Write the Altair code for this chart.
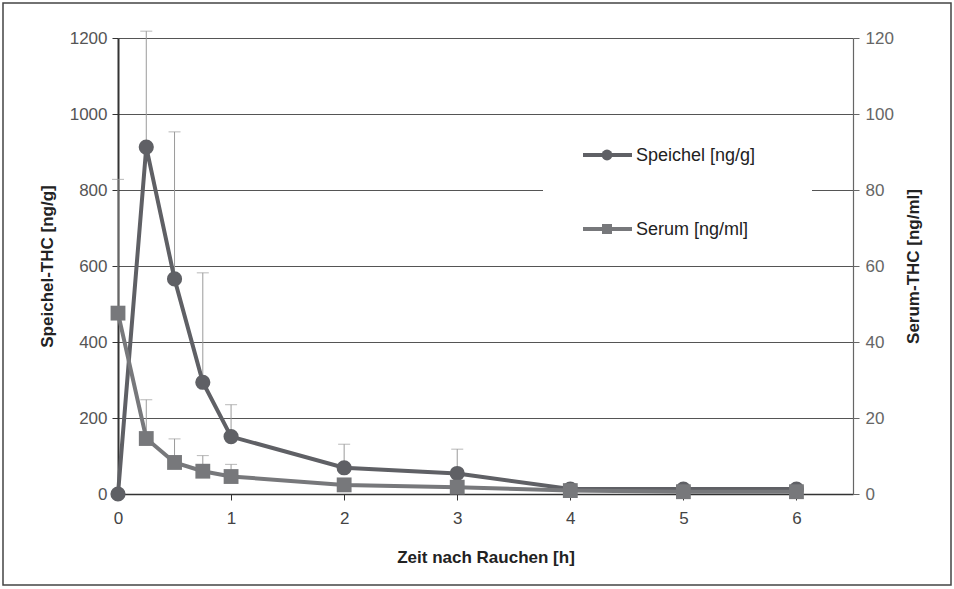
import altair as alt
import pandas as pd

# Time after smoking (hours)
hours = [0, 0.25, 0.5, 0.75, 1, 2, 3, 4, 5, 6]

# Oral fluid THC (ng/g) and its standard deviation
speichel = [0, 913, 566, 294, 151, 69, 54, 13, 13, 13]
speichel_sd = [0, 305, 387, 288, 84, 62, 64, 0, 0, 0]

# Serum THC (ng/ml) and its standard deviation
serum = [47.6, 14.6, 8.3, 6.0, 4.6, 2.4, 1.8, 0.9, 0.6, 0.6]
serum_sd = [35.2, 10.2, 6.2, 4.1, 3.2, 0, 0, 0, 0, 0]

x_ticks = [0, 1, 2, 3, 4, 5, 6]
left_ticks = [0, 200, 400, 600, 800, 1000, 1200]
right_ticks = [0, 20, 40, 60, 80, 100, 120]

legend_labels = ["Speichel [ng/g]", "Serum [ng/ml]"]

FONT = "Liberation Sans"
C_SPEICHEL = "#5f6065"
C_SERUM = "#77787b"
C_ERR = "#9a9a9a"

df = pd.DataFrame({
    "t": hours,
    "speichel": speichel,
    "speichel_hi": [v + s for v, s in zip(speichel, speichel_sd)],
    "speichel_sd": speichel_sd,
    "serum": serum,
    "serum_hi": [v + s for v, s in zip(serum, serum_sd)],
    "serum_sd": serum_sd,
})

x_enc = alt.X(
    "t:Q",
    scale=alt.Scale(domain=[0, 6.5], nice=False, zero=False),
    axis=alt.Axis(
        values=x_ticks, format="d", title="Zeit nach Rauchen [h]", grid=False,
        domainColor="#333", domainWidth=1.5, tickColor="#333", tickSize=6,
        labelFontSize=17, labelColor="#444", labelPadding=10, labelFont=FONT,
        labelFlush=False,
        titleFontSize=17, titleFont=FONT, titleFontWeight="bold", titleColor="#222",
        titlePadding=23,
    ),
)

left_scale = alt.Scale(domain=[0, 1200], nice=False)
right_scale = alt.Scale(domain=[0, 120], nice=False)

base = alt.Chart(df)

# --- Oral fluid series on the left axis ---
sp_err = base.transform_filter("datum.speichel_sd > 0").mark_rule(
    color=C_ERR, strokeWidth=1
).encode(x=x_enc, y=alt.Y("speichel:Q", scale=left_scale), y2="speichel_hi:Q")
sp_cap = base.transform_filter("datum.speichel_sd > 0").mark_tick(
    color=C_ERR, orient="horizontal", size=12, thickness=1
).encode(x="t:Q", y=alt.Y("speichel_hi:Q", scale=left_scale))
sp_line = base.mark_line(color=C_SPEICHEL, strokeWidth=4).encode(
    x="t:Q",
    y=alt.Y(
        "speichel:Q", scale=left_scale,
        axis=alt.Axis(
            values=left_ticks, format="d", title="Speichel-THC [ng/g]",
            orient="left", grid=True, gridColor="#555", gridWidth=1,
            domainColor="#333", domainWidth=2, tickColor="#333", tickSize=6,
            labelFontSize=17, labelColor="#555", labelPadding=5, labelFont=FONT,
            labelFlush=False,
            titleFontSize=17, titleFont=FONT, titleFontWeight="bold",
            titleColor="#222", titlePadding=13,
        ),
    ),
)
sp_pts = base.mark_point(
    shape="circle", filled=True, size=230, color=C_SPEICHEL, opacity=1
).encode(x="t:Q", y=alt.Y("speichel:Q", scale=left_scale))

left_layer = alt.layer(sp_err, sp_cap, sp_line, sp_pts)

# --- Serum series on the right axis ---
se_err = base.transform_filter("datum.serum_sd > 0").mark_rule(
    color=C_ERR, strokeWidth=1
).encode(x="t:Q", y=alt.Y("serum:Q", scale=right_scale), y2="serum_hi:Q")
se_cap = base.transform_filter("datum.serum_sd > 0").mark_tick(
    color=C_ERR, orient="horizontal", size=12, thickness=1
).encode(x="t:Q", y=alt.Y("serum_hi:Q", scale=right_scale))
se_line = base.mark_line(color=C_SERUM, strokeWidth=4).encode(
    x="t:Q",
    y=alt.Y(
        "serum:Q", scale=right_scale,
        axis=alt.Axis(
            values=right_ticks, format="d", title="Serum-THC [ng/ml]",
            orient="right", grid=False, domainColor="#666", domainWidth=1.2,
            tickColor="#666", tickSize=6,
            labelFontSize=17, labelColor="#666", labelPadding=6, labelFont=FONT,
            labelFlush=False,
            titleFontSize=17, titleFont=FONT, titleFontWeight="bold",
            titleColor="#222", titlePadding=29, titleAngle=270,
            titleBaseline="bottom",
        ),
    ),
)
se_pts = base.mark_point(
    shape="square", filled=True, size=220, color=C_SERUM, opacity=1
).encode(x="t:Q", y=alt.Y("serum:Q", scale=right_scale))

right_layer = alt.layer(se_err, se_cap, se_line, se_pts)

# --- Legend box drawn inside the plot area ---
one = alt.Chart(pd.DataFrame({"k": [0]}))
legend_bg = one.mark_rect(fill="white", stroke=None).encode(
    x=alt.value(425), x2=alt.value(694), y=alt.value(92), y2=alt.value(222)
)
legend_parts = [legend_bg]
for i, (label, color, shape, size) in enumerate(
    zip(legend_labels, [C_SPEICHEL, C_SERUM], ["circle", "square"], [120, 100])
):
    ypos = 117 + 74 * i
    legend_parts.append(one.mark_rule(color=color, strokeWidth=4).encode(
        x=alt.value(465), x2=alt.value(514), y=alt.value(ypos)))
    legend_parts.append(one.mark_point(
        shape=shape, filled=True, size=size, color=color, opacity=1
    ).encode(x=alt.value(489), y=alt.value(ypos)))
    legend_parts.append(one.mark_text(
        text=label, align="left", baseline="middle", font=FONT,
        fontSize=18, color="#222"
    ).encode(x=alt.value(518), y=alt.value(ypos + 1)))

# Outer frame around the whole figure
frame = one.mark_rect(fill=None, stroke="#444", strokeWidth=1.5).encode(
    x=alt.value(-115), x2=alt.value(833), y=alt.value(-35), y2=alt.value(547)
)

chart = alt.layer(
    left_layer, right_layer, *legend_parts, frame
).resolve_scale(y="independent").properties(
    width=735, height=456,
    padding={"left": 118, "top": 38, "right": 101, "bottom": 95},
    autosize=alt.AutoSizeParams(type="none"),
    background="white",
).configure_view(stroke=None)

chart.save("out.html", embed_options={"renderer": "svg", "actions": False})
